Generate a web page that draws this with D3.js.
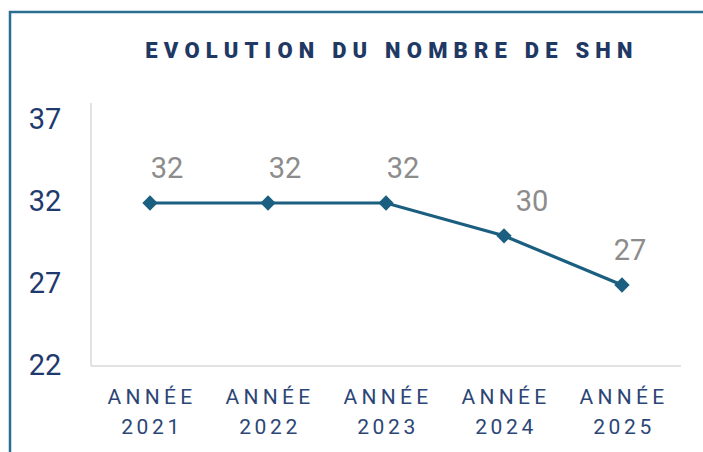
<!DOCTYPE html>
<html>
<head>
<meta charset="utf-8">
<script src="https://cdn.jsdelivr.net/npm/d3@7"></script>
<style>
  body { margin: 0; background: #fff; }
  text { font-family: Roboto, "Noto Sans", sans-serif; }
</style>
</head>
<body>
<svg id="chart"></svg>
<script>
const years = ["2021", "2022", "2023", "2024", "2025"];
const values = [32, 32, 32, 30, 27];
const yTicks = [22, 27, 32, 37];
const title = "EVOLUTION DU NOMBRE DE SHN";

// label nudges like the manual placement in the source chart
const labelDx = [17, 17, 17, 28, 8];

const width = 703;
const height = 452;

const svg = d3.select("#chart")
  .attr("width", width)
  .attr("height", height);

// frame border
svg.append("path")
  .attr("d", `M10,${height} V12 H${width}`)
  .attr("fill", "none")
  .attr("stroke", "#2b6e92")
  .attr("stroke-width", 2.5);

svg.append("text")
  .attr("x", 392)
  .attr("y", 58)
  .attr("text-anchor", "middle")
  .style("font-size", "22px")
  .style("font-weight", "900")
  .style("letter-spacing", "6.2px")
  .attr("fill", "#1f3864")
  .text(title);

const xScale = d3.scaleBand()
  .domain(years)
  .range([91, 681]);

const yScale = d3.scaleLinear()
  .domain([22, 37])
  .range([367, 121]);

// axes lines
svg.append("line")
  .attr("x1", 91).attr("x2", 91)
  .attr("y1", 103).attr("y2", 366)
  .attr("stroke", "#d9d9d9").attr("stroke-width", 1.5);
svg.append("line")
  .attr("x1", 91).attr("x2", 681)
  .attr("y1", 366).attr("y2", 366)
  .attr("stroke", "#d9d9d9").attr("stroke-width", 1.5);

svg.selectAll(".ytick")
  .data(yTicks)
  .enter().append("text")
  .attr("class", "ytick")
  .attr("x", 45)
  .attr("y", d => yScale(d) + 7.5)
  .attr("text-anchor", "middle")
  .style("font-size", "29px")
  .attr("fill", "#1f3a6e")
  .text(d => d);

const xLabels = svg.selectAll(".xlabel")
  .data(years)
  .enter().append("text")
  .attr("class", "xlabel")
  .attr("text-anchor", "middle")
  .style("font-size", "21px")
  .style("letter-spacing", "4.3px")
  .attr("fill", "#2c4676");
xLabels.append("tspan")
  .attr("x", d => xScale(d) + xScale.bandwidth() / 2 + 2)
  .attr("y", 404)
  .text("ANNÉE");
xLabels.append("tspan")
  .attr("x", d => xScale(d) + xScale.bandwidth() / 2 + 2)
  .attr("y", 434)
  .style("letter-spacing", "3.6px")
  .text(d => d);

const points = years.map((y, i) => ({ year: y, value: values[i], dx: labelDx[i] }));
const cx = d => xScale(d.year) + xScale.bandwidth() / 2;

const line = d3.line()
  .x(cx)
  .y(d => yScale(d.value));

svg.append("path")
  .datum(points)
  .attr("d", line)
  .attr("fill", "none")
  .attr("stroke", "#1b5f80")
  .attr("stroke-width", 3.2);

svg.selectAll(".marker")
  .data(points)
  .enter().append("path")
  .attr("class", "marker")
  .attr("d", d3.symbol().type(d3.symbolDiamond2).size(150))
  .attr("transform", d => `translate(${cx(d)},${yScale(d.value)})`)
  .attr("fill", "#1b5f80");

svg.selectAll(".vlabel")
  .data(points)
  .enter().append("text")
  .attr("class", "vlabel")
  .attr("x", d => cx(d) + d.dx)
  .attr("y", d => yScale(d.value) - 25)
  .attr("text-anchor", "middle")
  .style("font-size", "29px")
  .attr("fill", "#8c8c8c")
  .text(d => d.value);
</script>
</body>
</html>
